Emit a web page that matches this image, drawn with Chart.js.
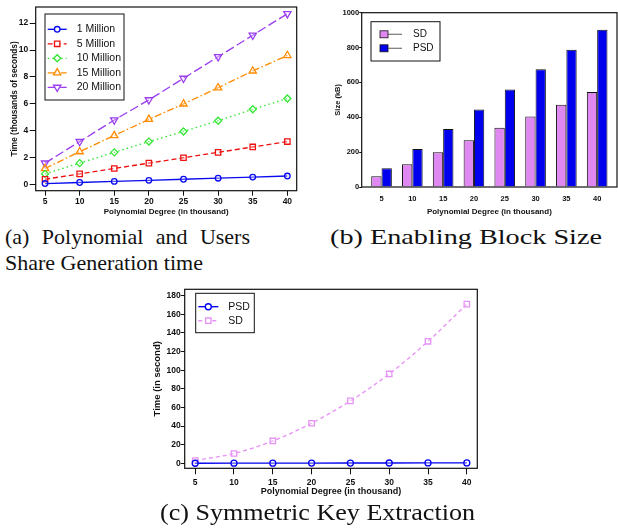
<!DOCTYPE html>
<html>
<head>
<meta charset="utf-8">
<script src="https://cdn.jsdelivr.net/npm/chart.js@4.4.1/dist/chart.umd.min.js"></script>
<style>
  body { margin: 0; background: #fff; width: 618px; height: 529px; position: relative; overflow: hidden; }
  canvas { position: absolute; }
  .cap { position: absolute; font-family: "Liberation Serif", "Times New Roman", serif; font-size: 22px; line-height: 22px; color: #111; white-space: nowrap; transform-origin: 0 0; }
</style>
</head>
<body>
<canvas id="chartA" width="305" height="220" style="left:0;top:0"></canvas>
<canvas id="chartB" width="308" height="220" style="left:310px;top:0"></canvas>
<canvas id="chartC" width="345" height="220" style="left:140px;top:280px"></canvas>
<div class="cap" id="capA1" style="left:5px;top:226px">(a) Polynomial and Users</div>
<div class="cap" id="capA2" style="left:5px;top:252px">Share Generation time</div>
<div class="cap" id="capB" data-w="272" style="left:330px;top:226px">(b) Enabling Block Size</div>
<div class="cap" id="capC" data-w="315" style="left:160px;top:500px;font-size:24px;line-height:24px">(c) Symmetric Key Extraction</div>
<script>
// polynomial degree (in thousand), shared by all three panels
const degrees = [5, 10, 15, 20, 25, 30, 35, 40];

// (a) share generation time, thousands of seconds
const gen1M = [0.08, 0.16, 0.24, 0.32, 0.40, 0.48, 0.56, 0.64];
const gen5M = [0.4, 0.8, 1.2, 1.6, 2.0, 2.4, 2.8, 3.2];
const gen10M = [0.8, 1.6, 2.4, 3.2, 3.95, 4.75, 5.6, 6.4];
const gen15M = [1.2, 2.45, 3.65, 4.85, 6.0, 7.2, 8.45, 9.6];
const gen20M = [1.6, 3.2, 4.8, 6.3, 7.9, 9.5, 11.1, 12.7];
const yTicksA = [0, 2, 4, 6, 8, 10, 12];

// (b) enabling block size, kB
const blockSD = [62, 130, 200, 268, 340, 405, 472, 545];
const blockPSD = [108, 218, 333, 445, 560, 675, 788, 902];
const yTicksB = [0, 200, 400, 600, 800, 1000];

// (c) symmetric key extraction time, seconds
const extractPSD = [0.05, 0.1, 0.15, 0.2, 0.25, 0.3, 0.35, 0.4];
const extractSD = [3, 10.5, 24, 43, 67, 96, 131, 171];
const yTicksC = [0, 20, 40, 60, 80, 100, 120, 140, 160, 180];

const sansFont = '"Liberation Sans", Arial, Helvetica, sans-serif';
const inkColor = '#111';

function points(values) {
  return degrees.map((d, i) => ({ x: d, y: values[i] }));
}

function setTicks(values) {
  return axis => { axis.ticks = values.map(v => ({ value: v })); };
}

// plain numbers, no thousands separator
const plainLabel = v => String(v);

function lineSet(label, values, color, dash, style, radius, rotation) {
  return {
    label: label,
    data: points(values),
    borderColor: color,
    backgroundColor: 'rgba(255,255,255,0)',
    borderWidth: 1.35,
    borderDash: dash,
    pointStyle: style,
    pointRadius: radius,
    pointRotation: rotation || 0,
    pointBorderWidth: 1.3,
    pointBackgroundColor: 'rgba(255,255,255,0.3)',
    tension: 0,
    fill: false
  };
}

// draws the closed box around the plot area
const framePlugin = {
  id: 'frame',
  afterDatasetsDraw(chart) {
    const { ctx, chartArea: a } = chart;
    ctx.save();
    ctx.strokeStyle = inkColor;
    ctx.lineWidth = 1.2;
    ctx.strokeRect(a.left, a.top, a.right - a.left, a.bottom - a.top);
    ctx.restore();
  }
};

// boxed legend inside the plot, like the original figures
const boxLegendPlugin = {
  id: 'boxLegend',
  afterDraw(chart, args, opts) {
    const ctx = chart.ctx;
    ctx.save();
    ctx.fillStyle = '#fff';
    ctx.fillRect(opts.x, opts.y, opts.w, opts.h);
    ctx.strokeStyle = inkColor;
    ctx.lineWidth = 1;
    ctx.strokeRect(opts.x, opts.y, opts.w, opts.h);

    chart.data.datasets.forEach((ds, i) => {
      const y = opts.y + opts.first + i * opts.gap;
      if (opts.bars) {
        ctx.setLineDash([]);
        ctx.strokeStyle = '#777';
        ctx.lineWidth = 1.2;
        ctx.beginPath();
        ctx.moveTo(opts.lineX1, y);
        ctx.lineTo(opts.lineX2, y);
        ctx.stroke();
        ctx.fillStyle = ds.backgroundColor;
        ctx.fillRect(opts.swatchX, y - 3.5, 8, 7);
        ctx.strokeStyle = inkColor;
        ctx.lineWidth = 0.8;
        ctx.strokeRect(opts.swatchX, y - 3.5, 8, 7);
      } else {
        ctx.strokeStyle = ds.borderColor;
        ctx.lineWidth = ds.borderWidth;
        ctx.setLineDash(ds.borderDash || []);
        ctx.beginPath();
        ctx.moveTo(opts.lineX1, y);
        ctx.lineTo(opts.lineX2, y);
        ctx.stroke();
        ctx.setLineDash([]);
        ctx.fillStyle = '#fff';
        Chart.helpers.drawPoint(ctx, {
          pointStyle: ds.pointStyle,
          radius: ds.pointRadius,
          rotation: ds.pointRotation,
          borderWidth: ds.pointBorderWidth
        }, (opts.lineX1 + opts.lineX2) / 2, y);
      }
      ctx.fillStyle = inkColor;
      ctx.font = opts.fontSize + 'px ' + sansFont;
      ctx.textBaseline = 'middle';
      ctx.textAlign = 'left';
      ctx.fillText(ds.label, opts.textX, y);
    });
    ctx.restore();
  }
};

function tickFont(size) {
  return { family: sansFont, size: size, weight: 'bold' };
}

function baseOptions() {
  return {
    animation: false,
    responsive: false,
    devicePixelRatio: 1,
    events: []
  };
}

// (a) Polynomial and users share generation time
new Chart(document.getElementById('chartA'), {
  type: 'line',
  data: {
    datasets: [
      lineSet('1 Million', gen1M, '#0a0af0', [], 'circle', 2.8),
      lineSet('5 Million', gen5M, '#ee1111', [5, 3], 'rect', 3.8),
      lineSet('10 Million', gen10M, '#33e633', [1.5, 3], 'rectRot', 3.5),
      lineSet('15 Million', gen15M, '#ff8c00', [7, 2.5, 1.5, 2.5], 'triangle', 4.2),
      lineSet('20 Million', gen20M, '#9b3ef0', [9, 3.5], 'triangle', 4.2, 180)
    ]
  },
  options: Object.assign(baseOptions(), {
    layout: { padding: { left: 0, top: 7, right: 8.3, bottom: 0 } },
    plugins: {
      legend: { display: false },
      tooltip: { enabled: false },
      boxLegend: { x: 45, y: 14, w: 79, h: 86, first: 15.3, gap: 14.5, lineX1: 47.7, lineX2: 66.7, textX: 76.7, fontSize: 10.5 }
    },
    scales: {
      x: {
        type: 'linear', min: 3.65, max: 41.35, offset: false,
        afterBuildTicks: setTicks(degrees),
        afterFit: axis => { axis.height = 29.3; },
        grid: { drawOnChartArea: false, tickLength: 5, color: inkColor, lineWidth: 1 },
        border: { display: false },
        ticks: { padding: 1, color: inkColor, font: tickFont(8.5), maxRotation: 0, autoSkip: false, callback: plainLabel },
        title: { display: true, text: 'Polynomial Degree (in thousand)', color: inkColor, font: tickFont(8), padding: { top: 0, bottom: 3.2 } }
      },
      y: {
        type: 'linear', min: -0.45, max: 13.2,
        afterBuildTicks: setTicks(yTicksA),
        afterFit: axis => { axis.width = 35.7; },
        grid: { drawOnChartArea: false, tickLength: 6, color: inkColor, lineWidth: 1 },
        border: { display: false },
        ticks: { padding: 1.4, color: inkColor, font: tickFont(8.5), callback: plainLabel },
        title: { display: true, text: 'Time (thousands of seconds)', color: inkColor, font: tickFont(8.3), padding: { top: 10, bottom: 0 } }
      }
    }
  }),
  plugins: [framePlugin, boxLegendPlugin]
});

// (b) Enabling block size
new Chart(document.getElementById('chartB'), {
  type: 'bar',
  data: {
    datasets: [
      { label: 'SD', data: points(blockSD), backgroundColor: '#e088f2', borderColor: inkColor, borderWidth: 1, categoryPercentage: 0.67, barPercentage: 1 },
      { label: 'PSD', data: points(blockPSD), backgroundColor: '#0000ee', borderColor: inkColor, borderWidth: 1, categoryPercentage: 0.67, barPercentage: 1 }
    ]
  },
  options: Object.assign(baseOptions(), {
    layout: { padding: { left: 0, top: 12.7, right: 1, bottom: 0 } },
    plugins: {
      legend: { display: false },
      tooltip: { enabled: false },
      boxLegend: { bars: true, x: 61, y: 21.7, w: 69, h: 39.3, first: 12.6, gap: 14, swatchX: 70, lineX1: 78, lineX2: 92, textX: 103, fontSize: 10 }
    },
    scales: {
      x: {
        type: 'linear', min: 1.78, max: 43.22, offset: false,
        afterBuildTicks: setTicks(degrees),
        afterFit: axis => { axis.height = 33; },
        grid: { display: false, drawTicks: false, offset: false },
        border: { display: false },
        ticks: { padding: 7.5, color: inkColor, font: tickFont(7.5), maxRotation: 0, autoSkip: false, callback: plainLabel },
        title: { display: true, text: 'Polynomial Degree (in thousand)', color: inkColor, font: tickFont(8), padding: { top: 0, bottom: 3.2 } }
      },
      y: {
        type: 'linear', min: 0, max: 1000,
        afterBuildTicks: setTicks(yTicksB),
        afterFit: axis => { axis.width = 51.7; },
        grid: { drawOnChartArea: false, tickLength: 2.5, color: inkColor, lineWidth: 1 },
        border: { display: false },
        ticks: { padding: 0, color: inkColor, font: tickFont(7.5), callback: plainLabel },
        title: { display: true, text: 'Size (kB)', color: inkColor, font: tickFont(7.5), padding: { top: 23.5, bottom: 0 } }
      }
    }
  }),
  plugins: [framePlugin, boxLegendPlugin]
});

// (c) Symmetric key extraction
new Chart(document.getElementById('chartC'), {
  type: 'line',
  data: {
    datasets: [
      lineSet('PSD', extractPSD, '#0000ee', [], 'circle', 3),
      Object.assign(lineSet('SD', extractSD, '#e892f7', [4, 3], 'rect', 3.8), { tension: 0.4, cubicInterpolationMode: 'monotone' })
    ]
  },
  options: Object.assign(baseOptions(), {
    layout: { padding: { left: 0, top: 9.3, right: 7.7, bottom: 0 } },
    plugins: {
      legend: { display: false },
      tooltip: { enabled: false },
      boxLegend: { x: 55.7, y: 13.3, w: 58.6, h: 39.4, first: 13.4, gap: 14, lineX1: 58.3, lineX2: 78.3, textX: 88.3, fontSize: 10.5 }
    },
    scales: {
      x: {
        type: 'linear', min: 3.65, max: 41.35, offset: false,
        afterBuildTicks: setTicks(degrees),
        afterFit: axis => { axis.height = 31.7; },
        grid: { drawOnChartArea: false, tickLength: 6, color: inkColor, lineWidth: 1 },
        border: { display: false },
        ticks: { padding: 3.5, color: inkColor, font: tickFont(8.5), maxRotation: 0, autoSkip: false, callback: plainLabel },
        title: { display: true, text: 'Polynomial Degree (in thousand)', color: inkColor, font: tickFont(9), padding: { top: 0, bottom: 2.6 } }
      },
      y: {
        type: 'linear', min: -5.4, max: 186.9,
        afterBuildTicks: setTicks(yTicksC),
        afterFit: axis => { axis.width = 44.7; },
        grid: { drawOnChartArea: false, tickLength: 4, color: inkColor, lineWidth: 1 },
        border: { display: false },
        ticks: { padding: 0, color: inkColor, font: tickFont(8.5), callback: plainLabel },
        title: { display: true, text: 'Time (in second)', color: inkColor, font: tickFont(9.5), padding: { top: 11.3, bottom: 0 } }
      }
    }
  }),
  plugins: [framePlugin, boxLegendPlugin]
});

// stretch the first caption line to its justified width
const capA1 = document.getElementById('capA1');
const spare = 245 - capA1.getBoundingClientRect().width;
if (spare > 0) capA1.style.wordSpacing = (spare / 3) + 'px';

// widen the other captions to the width they take in the original
['capB', 'capC'].forEach(id => {
  const el = document.getElementById(id);
  const w = el.getBoundingClientRect().width;
  el.style.transform = 'scaleX(' + (Number(el.dataset.w) / w) + ')';
});
</script>
</body>
</html>
